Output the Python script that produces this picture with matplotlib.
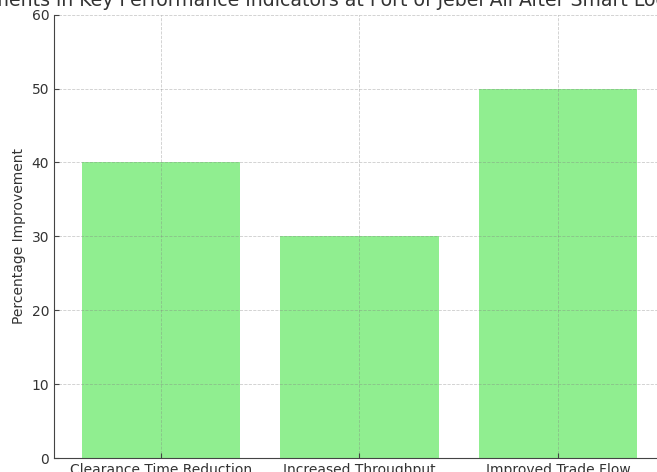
import matplotlib
matplotlib.use("Agg")
import matplotlib.pyplot as plt

categories = ["Clearance Time Reduction", "Increased Throughput", "Improved Trade Flow"]
improvement = [40, 30, 50]
title = "Improvements in Key Performance Indicators at Port of Jebel Ali After Smart Logistics Adoption"

plt.rcParams["text.color"] = "#333333"
plt.rcParams["axes.labelcolor"] = "#333333"
plt.rcParams["xtick.color"] = "#444444"
plt.rcParams["ytick.color"] = "#444444"
plt.rcParams["xtick.labelcolor"] = "#333333"
plt.rcParams["ytick.labelcolor"] = "#333333"

fig = plt.figure(figsize=(6.57, 4.72), dpi=100)
# the axes run past the right edge, like the reference crop
ax = fig.add_axes([54 / 657, 14 / 472, 611 / 657, 443.3 / 472])

ax.bar(categories, improvement, color="lightgreen", width=0.8, zorder=2)
ax.set_ylim(0, 60)
ax.set_ylabel("Percentage Improvement", fontsize=10)
ax.set_title(title, fontsize=13.6)
ax.tick_params(labelsize=10, direction="in", length=3.5)
# grid sits on top of the bars, faint
ax.set_axisbelow(False)
ax.grid(True, linestyle="--", color="#808080", alpha=0.4, linewidth=0.6, zorder=3)
for s in ["top", "right"]:
    ax.spines[s].set_visible(False)
for s in ["left", "bottom"]:
    ax.spines[s].set_color("#444444")

fig.savefig("out.png", dpi=100)
